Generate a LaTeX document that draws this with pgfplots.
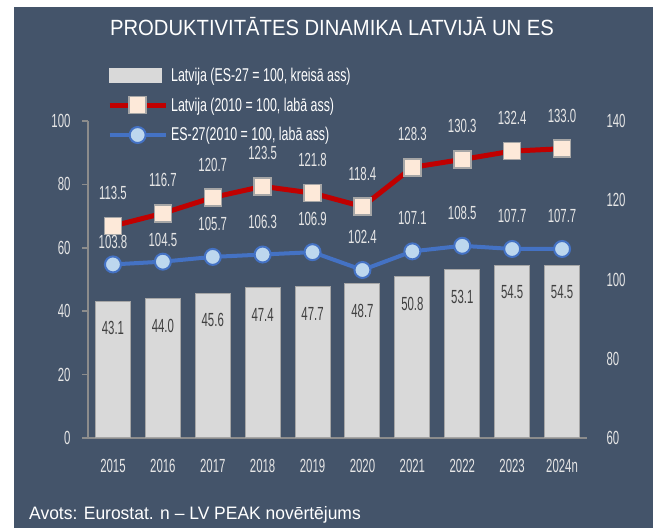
\documentclass[border=0pt]{standalone}
\usepackage{fontspec}
\setmainfont{Liberation Sans}[FakeStretch=0.6]
\newfontfamily\titlefont{Liberation Sans}[FakeStretch=0.92]
\newfontfamily\footfont{Liberation Sans}[FakeStretch=0.97]
\newfontfamily\legfont{Liberation Sans}[FakeStretch=0.67]
\usepackage{pgfplots}
\usepackage{pgfplotstable}
\pgfplotsset{compat=1.18}
\definecolor{bg}{HTML}{44546A}
\definecolor{barfill}{HTML}{D9D9D9}
\definecolor{bardraw}{HTML}{A6A6A6}
\definecolor{axcol}{HTML}{8C8C8C}
\definecolor{redc}{HTML}{C00000}
\definecolor{peach}{HTML}{FDE9D9}
\definecolor{bluec}{HTML}{4472C4}
\definecolor{lblue}{HTML}{BDD7EE}
\definecolor{tickc}{HTML}{E6E6E6}
\definecolor{barlab}{HTML}{404040}

\pgfplotsset{
  lineleg/.style={legend image code/.code={\draw[mark repeat=2,mark phase=2,##1] plot coordinates {(0bp,0bp) (28bp,0bp) (56bp,0bp)};}},
  barleg/.style={legend image code/.code={\fill[barfill] (0bp,-7bp) rectangle (52bp,7bp);}},
}

\pgfplotstableread{
x bar red blue off
0 43.1 113.5 103.8 22
1 44.0 116.7 104.5 22
2 45.6 120.7 105.7 33
3 47.4 123.5 106.3 33
4 47.7 121.8 106.9 33
5 48.7 118.4 102.4 33
6 50.8 128.3 107.1 33
7 53.1 130.3 108.5 33
8 54.5 132.4 107.7 33
9 54.5 133.0 107.7 33
}\data

\begin{document}
\begin{tikzpicture}[x=1bp,y=1bp]
\fill[white] (0,0) rectangle (653,528);
\fill[bg] (14,0) rectangle (653,521);
\node[font=\titlefont\fontsize{22bp}{26bp}\selectfont, text=white, anchor=base] at (332,492) {PRODUKTIVITĀTES DINAMIKA LATVIJĀ UN ES};
\node[font=\footfont\fontsize{18bp}{22bp}\selectfont, text=white, anchor=base west, inner sep=0pt] at (29,8) {Avots: Eurostat. n – LV PEAK novērtējums};

\begin{axis}[
  at={(88bp,90bp)}, anchor=south west, scale only axis,
  width=499bp, height=317bp,
  xmin=-0.5, xmax=9.5, ymin=0, ymax=100,
  ytick={0,20,...,100},
  xtick={0,...,9},
  xticklabels={2015,2016,2017,2018,2019,2020,2021,2022,2023,2024n},
  axis x line*=bottom, axis y line*=left,
  axis line style={draw=axcol, line width=1.5bp},
  every tick/.style={draw=axcol, line width=1.5bp},
  x tick style={draw=none},
  ytick style={draw=axcol},
  tick align=outside,
  major tick length=6bp,
  font=\fontsize{19bp}{22bp}\selectfont,
  /pgf/number format/assume math mode=true,
  ticklabel style={text=tickc},
  xticklabel style={yshift=-12bp},
  yticklabel style={xshift=-8bp},
  ybar, bar width=35bp,
  nodes near coords={\pgfmathprintnumber[fixed,fixed zerofill,precision=1,assume math mode=true]{\pgfplotspointmeta}},
  every node near coord/.append style={anchor=center, yshift=-27bp, text=barlab, font=\fontsize{19bp}{22bp}\selectfont},
  clip=false,
]
\addplot[fill=barfill, draw=bardraw, line width=1bp] table[x=x,y=bar]{\data};
\end{axis}

\begin{axis}[
  at={(88bp,90bp)}, anchor=south west, scale only axis,
  width=499bp, height=317bp,
  xmin=-0.5, xmax=9.5, ymin=60, ymax=140,
  ytick={60,80,...,140},
  axis x line=none, axis y line*=right,
  y axis line style={draw=none},
  major tick length=0pt,
  font=\fontsize{19bp}{22bp}\selectfont,
  /pgf/number format/assume math mode=true,
  yticklabel style={text=tickc, xshift=16bp},
  clip=false,
  legend style={at={(0.038,1.178)}, anchor=north west, draw=none, fill=none,
    text=white, inner sep=0pt, row sep=9bp,
    font=\legfont\fontsize{18.5bp}{21bp}\selectfont,
    nodes={inner sep=3bp}},
  legend cell align=left,
]
\addlegendimage{barleg}
\addlegendentry{Latvija (ES-27 = 100, kreisā ass)}
\addplot[color=redc, line width=5bp, mark=square*, mark size=8.5bp,
  mark options={fill=peach, draw=bardraw, line width=1.5bp},
  lineleg,
  nodes near coords={\pgfmathprintnumber[fixed,fixed zerofill,precision=1,assume math mode=true]{\pgfplotspointmeta}},
  every node near coord/.append style={anchor=center, yshift=33bp, text=tickc, font=\fontsize{19bp}{22bp}\selectfont},
] table[x=x,y=red]{\data};
\addlegendentry{Latvija (2010 = 100, labā ass)}
\addplot[color=bluec, line width=4bp, mark=*, mark size=8bp,
  mark options={fill=lblue, draw=bluec, line width=2bp},
  lineleg,
  visualization depends on={\thisrow{off} \as \myoff},
  nodes near coords={\pgfmathprintnumber[fixed,fixed zerofill,precision=1,assume math mode=true]{\pgfplotspointmeta}},
  every node near coord/.append style={anchor=center, yshift=\myoff bp, text=tickc, font=\fontsize{19bp}{22bp}\selectfont},
] table[x=x,y=blue]{\data};
\addlegendentry{ES-27(2010 = 100, labā ass)}
\end{axis}
\end{tikzpicture}
\end{document}
